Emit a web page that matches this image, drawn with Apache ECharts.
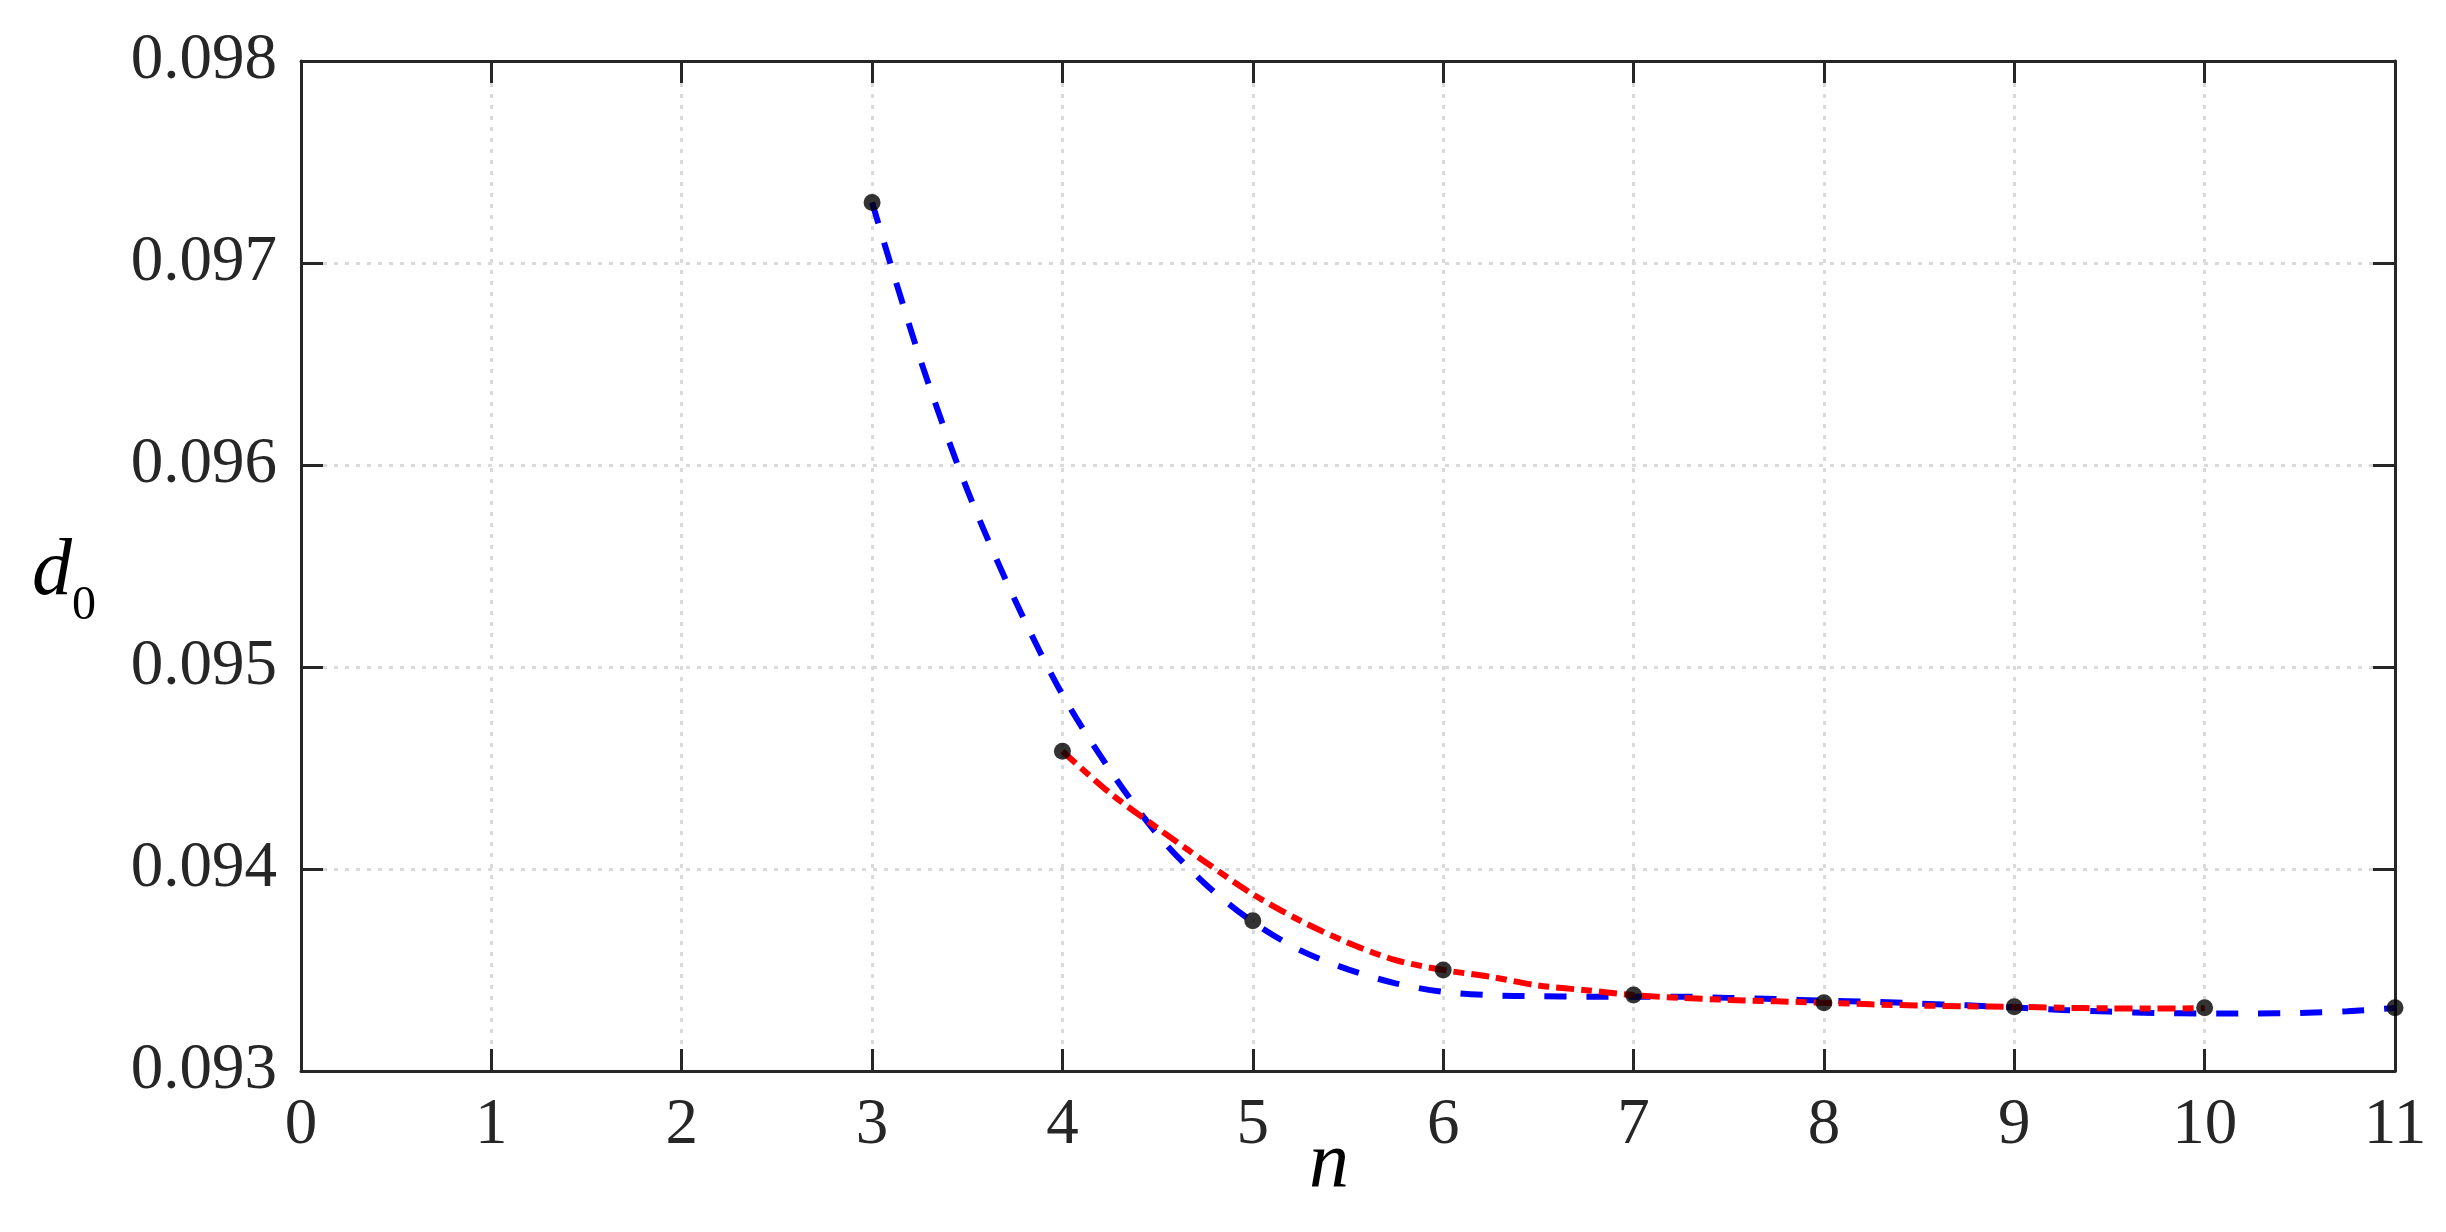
<!DOCTYPE html>
<html>
<head>
<meta charset="utf-8">
<style>
html,body{margin:0;padding:0;background:#fff;overflow:hidden;}
#chart{width:2446px;height:1232px;}
</style>
<script src="https://cdn.jsdelivr.net/npm/echarts@6/dist/echarts.min.js"></script>
</head>
<body>
<div id="chart"></div>
<script>
// Computed points (black dots)
const pointN = [3, 4, 5, 6, 7, 8, 9, 10, 11];
const pointD = [0.09730, 0.094583, 0.093744, 0.093500, 0.093376, 0.093338, 0.093318, 0.093313, 0.093313];

// Blue dashed fit
const blueN = [3, 3.25, 3.5, 3.75, 4, 4.25, 4.5, 4.75, 5, 5.25, 5.5, 5.75, 6, 6.25, 6.5, 6.75, 7, 7.25, 7.5, 7.75, 8, 8.25, 8.5, 8.75, 9, 9.25, 9.5, 9.75, 10, 10.25, 10.5, 10.75, 11];
const blueD = [0.09730, 0.096532, 0.095877, 0.095333, 0.094863, 0.094489, 0.094170, 0.093926, 0.093738, 0.093597, 0.093503, 0.093434, 0.093392, 0.093375, 0.093370, 0.093368, 0.093368, 0.093368, 0.093362, 0.093356, 0.093348, 0.093343, 0.093334, 0.093325, 0.093315, 0.093302, 0.093294, 0.093287, 0.093285, 0.093285, 0.093287, 0.093296, 0.093312];

// Red dash-dot fit
const redN = [4, 4.25, 4.5, 4.75, 5, 5.25, 5.5, 5.75, 6, 6.25, 6.5, 6.75, 7, 7.25, 7.5, 7.75, 8, 8.25, 8.5, 8.75, 9, 9.25, 9.5, 9.75, 10];
const redD = [0.094583, 0.094376, 0.094202, 0.094035, 0.093875, 0.093744, 0.093635, 0.093549, 0.093500, 0.093466, 0.093423, 0.093400, 0.093376, 0.093362, 0.093352, 0.093345, 0.093338, 0.093330, 0.093324, 0.093320, 0.093318, 0.093313, 0.093310, 0.093309, 0.093311];

const xTicks = [0, 1, 2, 3, 4, 5, 6, 7, 8, 9, 10, 11];
const yTicks = ['0.093', '0.094', '0.095', '0.096', '0.097', '0.098'];

const zip = (a, b) => a.map((v, i) => [v, b[i]]);
const AX = '#262626';
const FONT = 'Liberation Serif';

const chart = echarts.init(document.getElementById('chart'), null, {renderer: 'canvas', width: 2446, height: 1232});

const baseAxis = {
  axisLine: {show: true, onZero: false, lineStyle: {color: AX, width: 3}},
  axisTick: {show: true, inside: true, length: 22, lineStyle: {color: AX, width: 3}},
  splitLine: {show: false}
};

chart.setOption({
  animation: false,
  backgroundColor: '#ffffff',
  grid: {left: 301, top: 61, width: 2094, height: 1010, containLabel: false},
  xAxis: [
    Object.assign({}, baseAxis, {
      type: 'value', position: 'bottom', min: xTicks[0], max: xTicks[xTicks.length - 1], interval: 1,
      axisLabel: {color: AX, fontFamily: FONT, fontSize: 65, margin: 22, formatter: v => String(v)},
      splitLine: {show: true, lineStyle: {color: '#dadada', width: 3, type: [4, 7]}},
      name: 'n', nameLocation: 'middle', nameGap: 54, nameMoveOverlap: false,
      nameTextStyle: {color: '#000', fontFamily: FONT, fontStyle: 'italic', fontSize: 80, padding: [0, 38, 0, 0]}
    }),
    Object.assign({}, baseAxis, {
      type: 'value', position: 'top', min: 0, max: 11, interval: 1,
      axisLabel: {show: false}
    })
  ],
  yAxis: [
    Object.assign({}, baseAxis, {
      type: 'value', position: 'left', min: 0.093, max: 0.098, interval: 0.001,
      axisLabel: {color: AX, fontFamily: FONT, fontSize: 65, margin: 24,
        formatter: v => yTicks[Math.round((v - 0.093) / 0.001)] || v.toFixed(3)},
      splitLine: {show: true, lineStyle: {color: '#dadada', width: 3, type: [4, 7]}},
      name: '{d|d}{s|0}', nameLocation: 'middle', nameGap: 205, nameRotate: 0, nameMoveOverlap: false,
      nameTextStyle: {
        padding: [14, 0, 0, 0],
        rich: {
          d: {fontFamily: FONT, fontStyle: 'italic', fontSize: 80, color: '#000'},
          s: {fontFamily: FONT, fontSize: 48, color: '#000', padding: [67, 0, 0, 0]}
        }
      }
    }),
    Object.assign({}, baseAxis, {
      type: 'value', position: 'right', min: 0.093, max: 0.098, interval: 0.001,
      axisLabel: {show: false}
    })
  ],
  series: [
    {
      type: 'line', xAxisIndex: 0, yAxisIndex: 0, data: zip(blueN, blueD),
      showSymbol: false, symbol: 'none', smooth: 0.3,
      lineStyle: {color: '#0000ff', width: 6, type: [22, 20]}, z: 2
    },
    {
      type: 'line', xAxisIndex: 0, yAxisIndex: 0, data: zip(redN, redD),
      showSymbol: false, symbol: 'none', smooth: 0.3,
      lineStyle: {color: '#ff0000', width: 6, type: [18, 7, 11, 7]}, z: 3
    },
    {
      type: 'scatter', xAxisIndex: 0, yAxisIndex: 0, data: zip(pointN, pointD),
      symbol: 'circle', symbolSize: 17, itemStyle: {color: '#000'}, z: 4
    }
  ]
});
</script>
</body>
</html>
